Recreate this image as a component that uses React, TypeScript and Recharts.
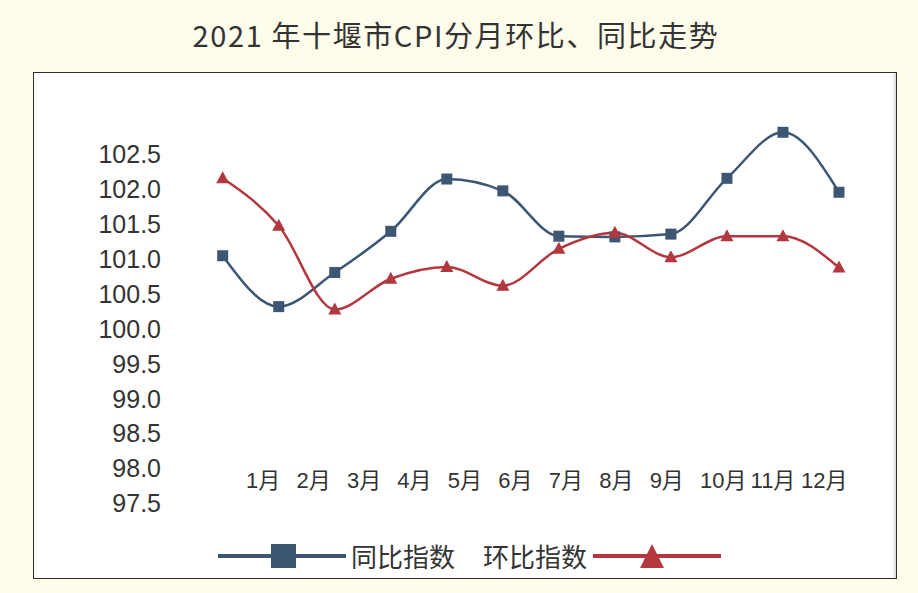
import React from "react";
import { LineChart, Line, XAxis, YAxis, Legend } from "recharts";

const months = ["1月", "2月", "3月", "4月", "5月", "6月", "7月", "8月", "9月", "10月", "11月", "12月"];
const yoyIndex = [101.05, 100.32, 100.81, 101.4, 102.15, 101.98, 101.33, 101.32, 101.36, 102.16, 102.82, 101.96];
const momIndex = [102.16, 101.48, 100.28, 100.72, 100.89, 100.62, 101.15, 101.38, 101.03, 101.33, 101.33, 100.88];
const yTicks = [97.5, 98, 98.5, 99, 99.5, 100, 100.5, 101, 101.5, 102, 102.5];

const data = months.map((month, i) => ({
  month,
  yoy: yoyIndex[i],
  mom: momIndex[i],
}));

const BLUE = "#3d5673";
const RED = "#b3373e";
const TEXT = "#333";
const FONT = '"Liberation Sans", Arial, "Noto Sans CJK SC", sans-serif';

const SquareDot = (props: any) => {
  const { cx, cy, index } = props;
  if (cx == null || cy == null) return null;
  return <rect key={`sq-${index}`} x={cx - 5.5} y={cy - 5.5} width={11} height={11} fill={BLUE} />;
};

const TriangleDot = (props: any) => {
  const { cx, cy, index } = props;
  if (cx == null || cy == null) return null;
  return (
    <polygon
      key={`tri-${index}`}
      points={`${cx},${cy - 7} ${cx + 6.5},${cy + 5} ${cx - 6.5},${cy + 5}`}
      fill={RED}
    />
  );
};

const MonthTick = (props: any) => {
  const { x, y, payload } = props;
  return (
    <text x={x} y={y} dy={-45} textAnchor="start" fill={TEXT} fontSize={22} fontFamily={FONT}>
      {payload.value}
    </text>
  );
};

const renderLegend = (props: any) => {
  const { payload = [] } = props;
  const first = payload[0];
  const second = payload[1];
  const textStyle: React.CSSProperties = {
    fontSize: 26,
    color: TEXT,
    fontFamily: '"Noto Sans CJK SC", sans-serif',
    lineHeight: "30px",
  };
  return (
    <div style={{ display: "flex", alignItems: "center", height: 30 }}>
      {first && (
        <>
          <svg width={128} height={26}>
            <line x1={0} y1={13} x2={128} y2={13} stroke={first.color} strokeWidth={4} />
            <rect x={53} y={1} width={25} height={24} fill={first.color} />
          </svg>
          <span style={{ ...textStyle, marginLeft: 5 }}>{first.value}</span>
        </>
      )}
      {second && (
        <>
          <span style={{ ...textStyle, marginLeft: 28 }}>{second.value}</span>
          <svg width={128} height={26} style={{ marginLeft: 6 }}>
            <line x1={0} y1={13} x2={128} y2={13} stroke={second.color} strokeWidth={4} />
            <polygon points="59,1 71,25 47,25" fill={second.color} />
          </svg>
        </>
      )}
    </div>
  );
};

export default function App() {
  return (
    <div
      style={{
        position: "absolute",
        left: 0,
        top: 0,
        width: 918,
        height: 593,
        background: "#fefcea",
        overflow: "hidden",
      }}
    >
      <div
        style={{
          position: "absolute",
          left: 0,
          top: 15,
          width: 912,
          textAlign: "center",
          fontSize: 29,
          letterSpacing: 1.6,
          color: TEXT,
          fontFamily: '"Noto Sans CJK SC", sans-serif',
          lineHeight: "38px",
        }}
      >
        2021 年十堰市CPI分月环比、同比走势
      </div>
      <div
        style={{
          position: "absolute",
          left: 33,
          top: 72,
          width: 864,
          height: 507,
          boxSizing: "border-box",
          border: "1.5px solid #2e2e2e",
          background: "#ffffff",
          boxShadow: "inset -5px 0 3px -3px #d8d8d8",
        }}
      />
      <div style={{ position: "absolute", left: 0, top: 0 }}>
        <LineChart
          width={918}
          height={593}
          data={data}
          margin={{ top: 132.3, right: 38, bottom: 59.7, left: 95 }}
        >
          <XAxis xAxisId="data" dataKey="month" hide padding={{ left: 47.7, right: 41 }} />
          <XAxis
            xAxisId="label"
            dataKey="month"
            axisLine={false}
            tickLine={false}
            tickSize={0}
            tickMargin={0}
            interval={0}
            height={30}
            padding={{ left: 71, right: 79 }}
            tick={<MonthTick />}
          />
          <YAxis
            width={80}
            domain={[97.5, 102.5]}
            ticks={yTicks}
            interval={0}
            axisLine={false}
            tickLine={false}
            tickSize={0}
            tickMargin={14}
            tickFormatter={(v: number) => v.toFixed(1)}
            tick={{ fill: TEXT, fontSize: 25, fontFamily: FONT }}
          />
          <Legend
            layout="horizontal"
            verticalAlign="middle"
            align="center"
            content={renderLegend}
            wrapperStyle={{ position: "absolute", left: 218, top: 541, width: 560, height: 30 }}
          />
          <Line
            xAxisId="data"
            type="monotone"
            dataKey="yoy"
            name="同比指数"
            stroke={BLUE}
            strokeWidth={2.5}
            dot={SquareDot}
            activeDot={false}
            isAnimationActive={false}
          />
          <Line
            xAxisId="data"
            type="monotone"
            dataKey="mom"
            name="环比指数"
            stroke={RED}
            strokeWidth={2.5}
            dot={TriangleDot}
            activeDot={false}
            isAnimationActive={false}
          />
        </LineChart>
      </div>
    </div>
  );
}
